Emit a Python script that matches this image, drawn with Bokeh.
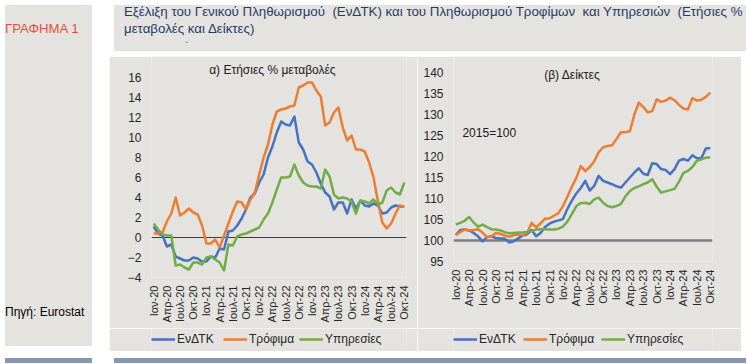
import math
from bokeh.plotting import figure
from bokeh.models import Range1d, FixedTicker, Span, Label, Legend, LegendItem, Div, Spacer
from bokeh.layouts import row, column
from bokeh.embed import file_html
from bokeh.resources import INLINE

# ---------------- data ----------------
month_index = list(range(58))  # Ιαν-20 ... Οκτ-24 (monthly)
tick_labels = ["Ιαν-20", "Απρ-20", "Ιουλ-20", "Οκτ-20", "Ιαν-21", "Απρ-21", "Ιουλ-21", "Οκτ-21",
               "Ιαν-22", "Απρ-22", "Ιουλ-22", "Οκτ-22", "Ιαν-23", "Απρ-23", "Ιουλ-23", "Οκτ-23",
               "Ιαν-24", "Απρ-24", "Ιουλ-24", "Οκτ-24"]
tick_positions = [0, 3, 6, 9, 12, 15, 18, 21, 24, 27, 30, 33, 36, 39, 42, 45, 48, 51, 54, 57]
series_names = ["ΕνΔΤΚ", "Τρόφιμα", "Υπηρεσίες"]

annual_hicp = [1.1, 0.4, 0.2, -0.9, -0.7, -1.9, -2.1, -2.3, -2.3, -2.0, -2.1, -2.4,
               -2.4, -1.9, -2.0, -1.1, -1.2, 0.6, 0.7, 1.2, 1.9, 2.8, 4.0, 4.4,
               5.5, 6.3, 8.0, 9.1, 10.5, 11.6, 11.3, 11.2, 12.1, 9.5, 8.8, 7.6,
               7.3, 6.5, 5.4, 4.5, 4.1, 2.8, 3.5, 3.5, 2.4, 3.8, 2.9, 3.7,
               3.2, 3.1, 3.4, 3.2, 2.4, 2.5, 3.0, 3.2, 3.1, 3.1]
annual_food = [0.4, 0.4, 0.5, 1.6, 2.4, 4.0, 2.2, 2.5, 2.9, 2.5, 2.3, 1.2,
               -0.6, -0.6, -0.2, -1.0, 0.2, 1.4, 2.6, 3.6, 3.5, 2.8, 3.8, 4.5,
               6.3, 8.0, 9.3, 11.3, 12.6, 12.8, 12.9, 13.1, 13.2, 15.0, 15.2, 15.5,
               15.5, 14.7, 14.1, 11.2, 11.5, 12.5, 13.0, 11.0, 9.7, 10.2, 8.8, 8.8,
               8.6, 7.5, 6.0, 3.6, 1.5, 0.9, 1.4, 2.4, 3.2, 3.1]
annual_services = [1.4, 0.8, 0.3, 0.2, 0.2, -2.8, -2.7, -3.0, -3.2, -2.5, -2.5, -2.7,
                   -2.0, -1.9, -2.2, -2.5, -3.3, -0.7, -0.8, 0.1, 0.3, 0.4, 0.6, 0.8,
                   1.0, 1.8, 2.4, 3.5, 4.8, 6.0, 6.0, 6.1, 7.3, 6.2, 5.5, 5.2,
                   5.1, 5.1, 4.9, 6.8, 6.1, 4.3, 3.9, 4.0, 3.9, 3.6, 2.4, 3.7,
                   3.6, 3.4, 3.8, 3.3, 3.5, 4.7, 5.0, 4.5, 4.3, 5.5]

index_hicp = [101.3, 102.5, 102.6, 102.4, 101.8, 101.0, 99.8, 100.8, 101.0, 100.6, 100.5, 100.4,
              99.5, 99.8, 100.5, 101.2, 101.5, 102.5, 101.0, 101.8, 103.2, 104.0, 104.5, 104.8,
              105.1, 107.5, 109.5, 111.2, 112.5, 114.2, 111.9, 113.0, 115.4, 114.2, 113.8, 113.4,
              112.9, 112.6, 113.8, 115.0, 116.2, 117.2, 115.9, 115.6, 118.4, 118.2, 117.0, 116.8,
              115.8, 117.0, 119.0, 119.4, 119.0, 120.3, 119.6, 119.6, 121.9, 122.0]
index_food = [101.3, 102.0, 102.6, 102.4, 102.5, 102.7, 101.9, 100.8, 101.0, 101.8, 101.6, 101.2,
              100.9, 101.3, 101.4, 101.3, 101.8, 104.2, 103.1, 104.1, 105.2, 105.3, 105.9, 106.5,
              108.2, 110.4, 112.8, 114.9, 117.7, 116.5, 117.5, 118.8, 121.0, 122.2, 122.5, 122.7,
              124.2, 125.8, 125.8, 126.0, 130.0, 132.8, 131.8, 130.5, 130.8, 133.6, 133.0, 133.3,
              134.0, 133.4, 132.3, 131.4, 131.2, 133.9, 133.3, 133.5, 134.2, 135.2]
index_services = [103.8, 104.2, 104.7, 105.6, 104.3, 103.3, 103.8, 103.2, 102.7, 102.6, 102.4, 102.0,
                  101.7, 101.8, 101.9, 101.9, 102.0, 102.3, 102.6, 102.7, 102.7, 102.6, 102.6, 102.8,
                  103.3, 104.5, 106.3, 108.2, 108.9, 109.0, 108.7, 109.8, 110.2, 109.0, 108.2, 107.9,
                  108.2, 108.7, 110.5, 111.8, 112.5, 112.9, 113.4, 113.8, 114.6, 112.8, 111.4, 111.7,
                  112.0, 112.3, 114.0, 116.1, 116.6, 117.5, 119.0, 119.3, 119.7, 119.8]

# ---------------- style ----------------
BG = "#e5e3df"
BAR = "#8797b2"
COLORS = ["#4472c4", "#ed7d31", "#70ad47"]
FONT = "Liberation Sans"
TXT = "#262626"


def make_chart(width, series, y0, y1, yticks, border_l, border_r, border_b,
               base_value, base_color, base_width):
    p = figure(width=width, height=272, x_range=Range1d(-0.5, 57.5), y_range=Range1d(y0, y1),
               title=None, output_backend="svg", toolbar_location=None,
               min_border_left=border_l, min_border_right=border_r,
               min_border_top=0, min_border_bottom=border_b)
    p.background_fill_color = BG
    p.border_fill_color = BG
    p.outline_line_color = None
    p.xgrid.grid_line_color = None
    p.ygrid.grid_line_color = None

    p.add_layout(Span(location=base_value, dimension="width", line_color=base_color,
                      line_width=base_width, level="underlay"))

    for vals, c in zip(series, COLORS):
        p.line(month_index, vals, line_color=c, line_width=2.5, line_join="round")

    # y axis
    p.yaxis.ticker = FixedTicker(ticks=yticks)
    p.yaxis.axis_line_color = None
    p.yaxis.major_tick_line_color = None
    p.yaxis.minor_tick_line_color = None
    p.yaxis.major_tick_out = 0
    p.yaxis.major_tick_in = 0
    p.yaxis.major_label_standoff = 10
    p.yaxis.major_label_text_font = FONT
    p.yaxis.major_label_text_font_size = "12px"
    p.yaxis.major_label_text_color = TXT

    # x axis
    p.xaxis.ticker = FixedTicker(ticks=tick_positions)
    p.xaxis.major_label_overrides = {pos: lab for pos, lab in zip(tick_positions, tick_labels)}
    p.xaxis.major_label_orientation = math.pi / 2
    p.xaxis.axis_line_color = None
    p.xaxis.major_tick_line_color = None
    p.xaxis.minor_tick_line_color = None
    p.xaxis.major_tick_out = 0
    p.xaxis.major_tick_in = 0
    p.xaxis.major_label_standoff = 8
    p.xaxis.major_label_text_font = FONT
    p.xaxis.major_label_text_font_size = "11px"
    p.xaxis.major_label_text_color = TXT
    return p


def make_legend(width, series, legend_x):
    # legend strip under a chart; its frame lines up with the chart frame above it
    lf = figure(width=width, height=23, x_range=Range1d(-0.5, 57.5), y_range=Range1d(0, 1),
                title=None, x_axis_type=None, y_axis_type=None, output_backend="svg",
                toolbar_location=None,
                min_border_left=0, min_border_right=0, min_border_top=0, min_border_bottom=0)
    lf.background_fill_color = BG
    lf.border_fill_color = BG
    lf.outline_line_color = None
    lf.xgrid.grid_line_color = None
    lf.ygrid.grid_line_color = None
    for name, vals, c, lx in zip(series_names, series, COLORS, legend_x):
        r = lf.line(month_index, vals, line_color=c, line_width=2.5, visible=False)
        lg = Legend(items=[LegendItem(label=name, renderers=[r])], location=(lx, 5),
                    orientation="horizontal", background_fill_alpha=0, border_line_color=None,
                    padding=0, margin=0, spacing=0, glyph_width=24, glyph_height=12,
                    label_height=12, label_standoff=2, label_text_font=FONT,
                    label_text_font_size="12px", label_text_color=TXT)
        lf.add_layout(lg)
    return lf


# chart (a): annual % changes
series_a = [annual_hicp, annual_food, annual_services]
pa = make_chart(308, series_a, -4, 18.1, list(range(-4, 17, 2)), 42, 11, 51, 0, "#3c3c3c", 1)
pa.add_layout(Label(x=27, y=16.8, text="α) Ετήσιες % μεταβολές", text_align="center",
                    text_baseline="middle", text_font=FONT, text_font_size="12px",
                    text_color="#1a1a1a"))
la = make_legend(308, series_a, [0, 72, 148])

# chart (b): indices
series_b = [index_hicp, index_food, index_services]
pb = make_chart(324, series_b, 95, 143.81, list(range(95, 141, 5)), 36, 29, 67, 100, "#7f7f7f", 2.5)
pb.add_layout(Label(x=26.1, y=139.3, text="(β) Δείκτες", text_align="center",
                    text_baseline="middle", text_font=FONT, text_font_size="12px",
                    text_color="#1a1a1a"))
pb.add_layout(Label(x=1.5, y=125.5, text="2015=100", text_align="left",
                    text_baseline="middle", text_font=FONT, text_font_size="12px",
                    text_color="#1a1a1a"))
lb = make_legend(324, series_b, [0, 70, 148])

title_html = (
    '<div style="position:relative;width:632px;height:46px;font-family:\'Liberation Sans\',Arial,sans-serif;">'
    '<div style="position:absolute;left:10px;top:-2px;color:#1f3b6b;font-size:13.3px;line-height:17px;white-space:pre;">'
    'Εξέλιξη του Γενικού Πληθωρισμού  (ΕνΔΤΚ) και του Πληθωρισμού Τροφίμων  και Υπηρεσιών  (Ετήσιες %\n'
    'μεταβολές και Δείκτες)</div>'
    '<div style="position:absolute;left:71px;top:36px;color:#7d8fab;font-size:11px;line-height:10px;">ˇ</div>'
    '</div>'
)
title_div = Div(text=title_html, width=632, height=46, styles={"background-color": BG})

left_html = (
    '<div style="position:relative;width:87px;height:341px;font-family:\'Liberation Sans\',Arial,sans-serif;">'
    '<div style="position:absolute;left:0px;top:17px;color:#e5503b;font-size:13.2px;line-height:14px;white-space:nowrap;">ΓΡΑΦΗΜΑ 1</div>'
    '<div style="position:absolute;left:0px;top:300px;color:#000000;font-size:12px;line-height:14px;white-space:nowrap;">Πηγή: Eurostat</div>'
    '</div>'
)
left_div = Div(text=left_html, width=87, height=341, styles={"background-color": BG})

left_col = column(left_div, Spacer(width=87, height=2),
                  Div(text="", width=87, height=5, styles={"background-color": BAR}))
charts = row(column(pa, la), column(pb, lb))
main_col = column(title_div, charts, Spacer(width=632, height=2),
                  Div(text="", width=632, height=5, styles={"background-color": BAR}))
layout = row(left_col, Spacer(width=12, height=348), main_col)

open("out.html", "w").write(file_html(layout, INLINE))
